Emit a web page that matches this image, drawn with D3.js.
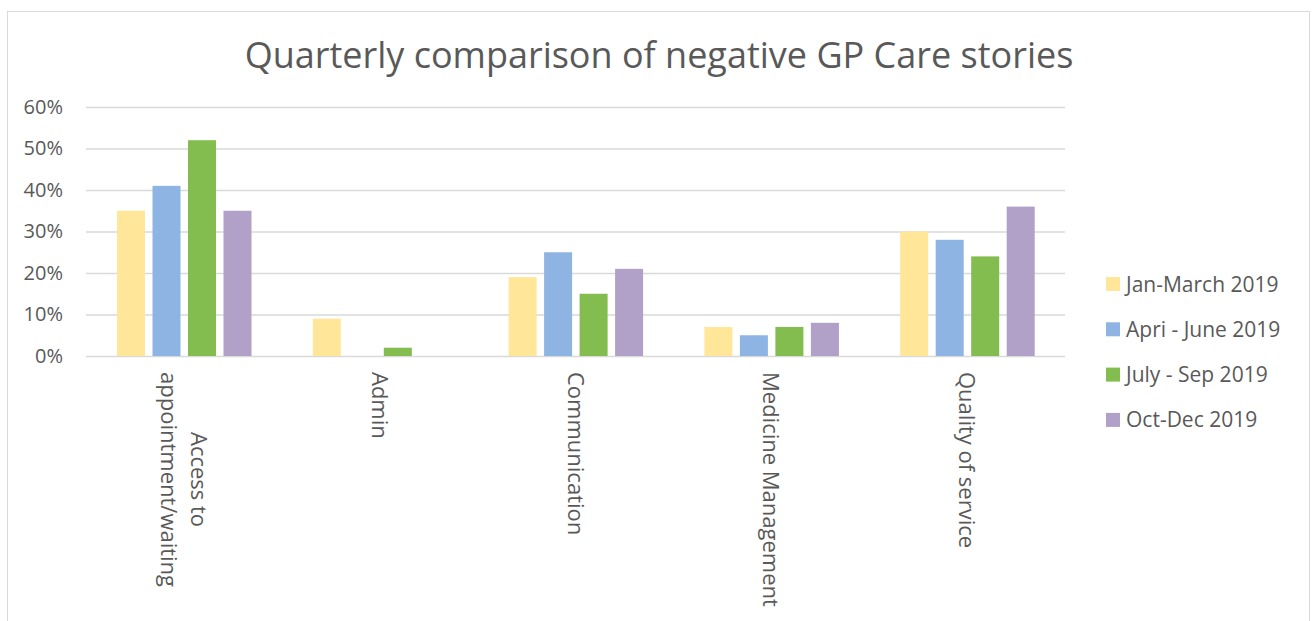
<!DOCTYPE html>
<html>
<head>
<meta charset="utf-8">
<script src="https://cdn.jsdelivr.net/npm/d3@7"></script>
<style>
  body { margin: 0; background: #fff; }
  text { font-family: "Open Sans", "DejaVu Sans", sans-serif; fill: #595959; }
</style>
</head>
<body>
<div id="chart"></div>
<script>
// data
const categories = [
    ["Access to", "appointment/waiting"],
    ["Admin"],
    ["Communication"],
    ["Medicine Management"],
    ["Quality of service"]
];
const quarters = ["Jan-March 2019", "Apri - June 2019", "July - Sep 2019", "Oct-Dec 2019"];
const janMar = [0.35, 0.09, 0.19, 0.07, 0.30];
const aprJun = [0.41, 0.00, 0.25, 0.05, 0.28];
const julSep = [0.52, 0.02, 0.15, 0.07, 0.24];
const octDec = [0.35, 0.00, 0.21, 0.08, 0.36];
const yTicks = [0, 0.1, 0.2, 0.3, 0.4, 0.5, 0.6];

const series = [janMar, aprJun, julSep, octDec];
const colors = ["#ffe699", "#8eb4e3", "#84bd4f", "#b1a0c7"];

const width = 1313, height = 621;
const margin = { t: 107, l: 86, r: 248, b: 265 };
const w = width - margin.l - margin.r;
const h = height - margin.t - margin.b;

const svg = d3.select("#chart").append("svg")
    .attr("width", width)
    .attr("height", height);

// outer frame
svg.append("rect")
    .attr("x", 7.5).attr("y", 11.5)
    .attr("width", 1302).attr("height", 640)
    .attr("fill", "none").attr("stroke", "#d9d9d9");

svg.append("text")
    .attr("x", 659).attr("y", 68)
    .attr("text-anchor", "middle")
    .attr("font-size", "36px")
    .text("Quarterly comparison of negative GP Care stories");

const g = svg.append("g").attr("transform", `translate(${margin.l},${margin.t})`);

const x = d3.scaleBand().domain(d3.range(categories.length)).range([0, w]);
const xs = d3.scaleBand().domain(d3.range(series.length)).range([23.5, 173]).padding(0.211);
const y = d3.scaleLinear().domain([0, 0.6]).range([h, 0]);

// gridlines
const yAxis = g.append("g")
    .call(d3.axisLeft(y).tickValues(yTicks).tickFormat(d3.format(".0%")).tickSize(-w).tickPadding(23));
yAxis.select(".domain").remove();
yAxis.selectAll("line").attr("stroke", "#d9d9d9").attr("stroke-width", 1.5);
yAxis.selectAll("text").attr("font-size", "20px").attr("fill", "#595959")
    .attr("font-family", "\"Open Sans\", sans-serif");

// bars
series.forEach((vals, si) => {
    g.append("g").selectAll("rect")
        .data(vals)
        .join("rect")
        .attr("x", (d, i) => x(i) + xs(si))
        .attr("width", xs.bandwidth())
        .attr("y", d => y(d))
        .attr("height", d => h - y(d))
        .attr("fill", colors[si]);
});

// rotated category labels
const labelTop = h + 16;
const lineH = 30;
categories.forEach((lines, i) => {
    const cx = x(i) + x.bandwidth() / 2;
    const n = lines.length;
    const lg = g.append("g")
        .attr("transform", `translate(${cx},${labelTop}) rotate(90)`);
    const texts = lines.map((ln, k) => lg.append("text")
        .attr("font-size", "22px")
        .attr("dy", ((k - (n - 1) / 2) * lineH + 8) + "px")
        .text(ln));
    const lens = texts.map(t => t.node().getComputedTextLength());
    const maxLen = d3.max(lens);
    texts.forEach((t, k) => t.attr("x", (maxLen - lens[k]) / 2));
});

// legend
const legend = svg.append("g").attr("transform", "translate(1106,284)");
quarters.forEach((q, i) => {
    const row = legend.append("g").attr("transform", `translate(0,${i * 45.3})`);
    row.append("rect").attr("x", 0).attr("y", -7).attr("width", 14).attr("height", 14).attr("fill", colors[i]);
    row.append("text").attr("x", 20).attr("y", 7.5).attr("font-size", "21px").text(q);
});
</script>
</body>
</html>
